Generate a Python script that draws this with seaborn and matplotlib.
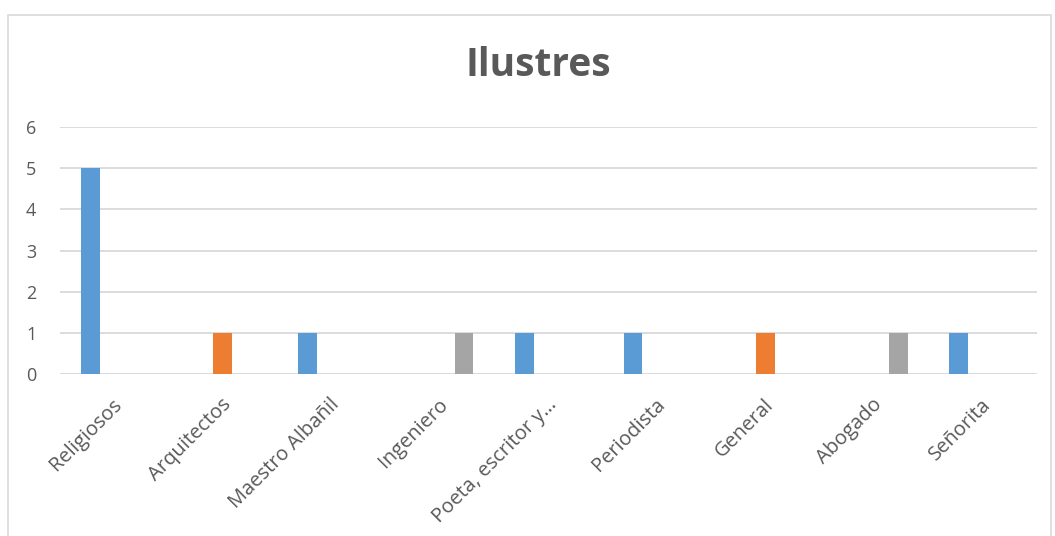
import matplotlib
matplotlib.use("Agg")
import matplotlib.pyplot as plt
import matplotlib.transforms as mtransforms
import seaborn as sns
import pandas as pd
from matplotlib.patches import Rectangle

categories = ["Religiosos", "Arquitectos", "Maestro Albañil", "Ingeniero",
              "Poeta, escritor y…", "Periodista", "General", "Abogado", "Señorita"]
series_names = ["Serie1", "Serie2", "Serie3"]
serie1 = [5, 0, 1, 0, 1, 1, 0, 0, 1]
serie2 = [0, 1, 0, 0, 0, 0, 1, 0, 0]
serie3 = [0, 0, 0, 1, 0, 0, 0, 1, 0]
colors = ["#5B9BD5", "#ED7D31", "#A5A5A5"]

rows = []
for name, vals in zip(series_names, [serie1, serie2, serie3]):
    for c, v in zip(categories, vals):
        rows.append({"cat": c, "serie": name, "val": v})
df = pd.DataFrame(rows)

sns.set_style("white")
plt.rcParams['font.family'] = ['Open Sans', 'DejaVu Sans']

fig = plt.figure(figsize=(10.55, 5.36), dpi=100)
ax = fig.add_axes([60/1055, 162/536, 977/1055, 247/536])

sns.barplot(data=df, x="cat", y="val", hue="serie", palette=colors,
            width=0.667, gap=0.22, ax=ax, legend=False, saturation=1,
            linewidth=0)

ax.set_ylim(0, 6)
ax.set_yticks(range(0, 7))
ax.set_xlim(-0.5, len(categories) - 0.5)
ax.yaxis.grid(True, color="#D9D9D9", linewidth=1.3)
ax.set_axisbelow(True)
for s in ax.spines.values():
    s.set_visible(False)
ax.tick_params(axis="both", length=0, labelcolor="#595959")
ax.tick_params(axis="y", pad=17, labelsize=13)
ax.tick_params(axis="x", pad=12, labelsize=14.5)
plt.setp(ax.get_xticklabels(), rotation=45, ha="right", rotation_mode="anchor")
offset = mtransforms.ScaledTranslation(-2/100, -4/100, fig.dpi_scale_trans)
for lbl in ax.get_xticklabels():
    lbl.set_transform(lbl.get_transform() + offset)
ax.set_xlabel("")
ax.set_ylabel("")

fig.text(538/1055, 1 - 66/536, "Ilustres", ha="center", va="center",
         fontsize=28, fontweight="bold", color="#595959")

fig.patches.append(Rectangle((8/1055, -0.01), 1043/1055, 1 - 15/536 + 0.01,
                             transform=fig.transFigure, fill=False,
                             edgecolor="#D9D9D9", linewidth=1.2))

fig.savefig("out.png", dpi=100)
